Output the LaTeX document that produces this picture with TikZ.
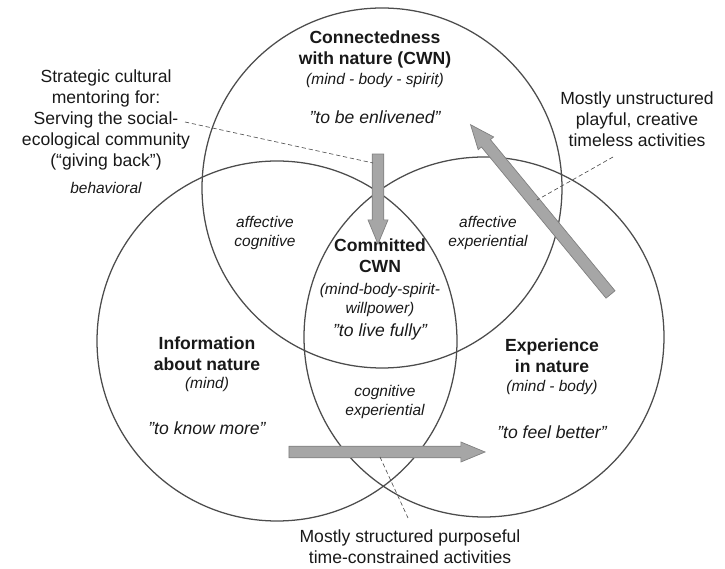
\documentclass[tikz,border=0pt]{standalone}
\usepackage{fontspec}
\setmainfont{Liberation Sans}
\usetikzlibrary{shapes.arrows}

\newcommand{\sq}{\symbol{34}}

\tikzset{
    venn/.style = {draw=black!70, line width=0.9pt},
    head/.style = {font=\bfseries\fontsize{12.5}{14.9}\selectfont, align=center, text=black!90},
    sub/.style = {font=\itshape\fontsize{11}{13}\selectfont, align=center, text=black!90},
    quot/.style = {font=\itshape\fontsize{12.5}{14.9}\selectfont, text=black!90},
    note/.style = {font=\fontsize{12.5}{14.9}\selectfont, align=center, text=black!90},
    fatarrow/.style = {single arrow, draw=black!50, fill=black!35, line width=0.5pt,
        inner xsep=0pt, inner ysep=0.13cm, minimum width=0.5cm,
        single arrow head extend=0.1cm, single arrow tip angle=45},
    leader/.style = {densely dashed, line width=0.45pt, draw=black!70},
}

\begin{document}
\begin{tikzpicture}[x=0.025cm, y=-0.025cm]
    \useasboundingbox (0,0) rectangle (725,569);

    \def \r {180};

    % the three circles
    \draw [venn] (382, 188) circle (\r);
    \draw [venn] (277, 341) circle (\r);
    \draw [venn] (484, 337) circle (\r);

    % top circle
    \node[head] (cwn) at (375, 49) {Connectedness\\with nature (CWN)};
    \node[sub] (cwnsub) at (375, 81) {(mind - body - spirit)};
    \node[quot] (cwnquote) at (375, 117) {\sq to be enlivened\sq};

    % left circle
    \node[head] (info) at (207, 354) {Information\\about nature};
    \node[sub] (infosub) at (207, 385) {(mind)};
    \node[quot] (infoquote) at (207, 428) {\sq to know more\sq};

    % right circle
    \node[head] (exp) at (552, 356) {Experience\\in nature};
    \node[sub] (expsub) at (552, 388) {(mind - body)};
    \node[quot] (expquote) at (552, 432) {\sq to feel better\sq};

    % overlaps
    \node[sub] (affcog) at (265, 233) {affective\\cognitive};
    \node[sub] (affexp) at (488, 233) {affective\\experiential};
    \node[sub] (cogexp) at (385, 402) {cognitive\\experiential};

    \node[head] (ccwn) at (380, 256) {Committed\\CWN};
    \node[sub] (ccwnsub) at (380, 300) {(mind-body-spirit-\\willpower)};
    \node[quot] (ccwnquote) at (380, 332) {\sq to live fully\sq};

    % notes outside
    \node[note] (mentor) at (106, 120) {Strategic cultural\\mentoring for:\\Serving the social-\\ecological community\\(“giving back”)};
    \node[sub] (behav) at (106, 188) {behavioral};
    \node[note] (unstruct) at (637, 119) {Mostly unstructured\\playful, creative\\timeless activities};
    \node[note] (struct) at (410, 547) {Mostly structured purposeful\\time-constrained activities};

    % fat arrows
    \node[fatarrow, minimum height=2.25cm, rotate=-90] (down) at (378, 192) {};
    \node[fatarrow, minimum height=5.5cm, rotate=129.5] (diag) at (545, 215) {};
    \node[fatarrow, minimum height=4.9cm] (across) at (380, 452) {};

    % leaders
    \coordinate (mentorend) at (185, 122);
    \coordinate (downside) at (373, 163);
    \coordinate (unstructend) at (613, 157);
    \coordinate (diagside) at (537, 200);
    \coordinate (acrossside) at (380, 457);
    \coordinate (structend) at (408, 518);

    \draw [leader] (mentorend) -- (downside);
    \draw [leader] (unstructend) -- (diagside);
    \draw [leader] (acrossside) -- (structend);

\end{tikzpicture}
\end{document}
